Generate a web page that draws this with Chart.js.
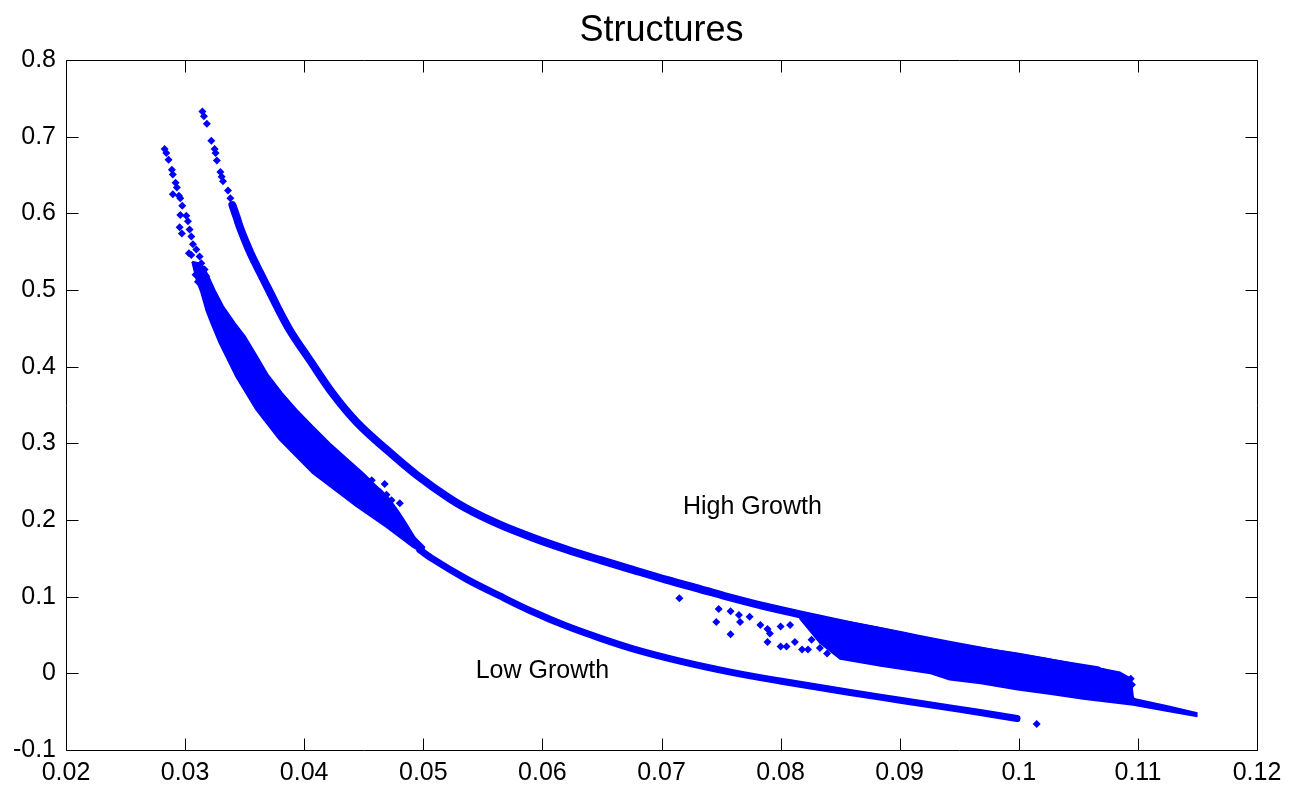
<!DOCTYPE html>
<html>
<head>
<meta charset="utf-8">
<title>Structures</title>
<script src="https://cdn.jsdelivr.net/npm/chart.js@4.4.1/dist/chart.umd.min.js"></script>
<style>
  html, body { margin: 0; padding: 0; background: #fff; }
  #wrap { width: 1296px; height: 789px; }
</style>
</head>
<body>
<div id="wrap"><canvas id="chart" width="1296" height="789"></canvas></div>
<script>
// Axis ticks
const xTicks = [0.02, 0.03, 0.04, 0.05, 0.06, 0.07, 0.08, 0.09, 0.1, 0.11, 0.12];
const xTickLabels = ['0.02', '0.03', '0.04', '0.05', '0.06', '0.07', '0.08', '0.09', '0.1', '0.11', '0.12'];
const yTicks = [-0.1, 0, 0.1, 0.2, 0.3, 0.4, 0.5, 0.6, 0.7, 0.8];
const yTickLabels = ['-0.1', '0', '0.1', '0.2', '0.3', '0.4', '0.5', '0.6', '0.7', '0.8'];

// High Growth: sparse dots at the top, the main curve, the dense cloud on the right, stray dots
const highTip = [[0.03145, 0.733], [0.03158, 0.727], [0.03183, 0.717], [0.03220, 0.695], [0.03248, 0.684],
  [0.03256, 0.679], [0.03267, 0.669], [0.03296, 0.654], [0.03307, 0.648], [0.03318, 0.642], [0.03360, 0.630], [0.03380, 0.620]];
const highCurve = [[0.03397, 0.611], [0.03435, 0.594], [0.03458, 0.583], [0.03514, 0.561], [0.03550, 0.548],
  [0.03584, 0.537], [0.03626, 0.524], [0.03668, 0.511], [0.03710, 0.498], [0.03752, 0.485], [0.03794, 0.472],
  [0.03878, 0.448], [0.04046, 0.409], [0.04240, 0.365], [0.04439, 0.328], [0.04691, 0.292], [0.04943, 0.259],
  [0.05223, 0.228], [0.05363, 0.215], [0.05643, 0.194], [0.05920, 0.177], [0.06197, 0.162], [0.06483, 0.148],
  [0.06761, 0.135], [0.07044, 0.122], [0.07324, 0.110], [0.07601, 0.098], [0.07878, 0.087], [0.08164, 0.077],
  [0.08584, 0.063], [0.09004, 0.050], [0.09424, 0.037], [0.09845, 0.025], [0.10265, 0.014], [0.10660, 0.004]];
const highCloudTop = [[0.0816, 0.079], [0.0833, 0.074], [0.0850, 0.069], [0.0884, 0.059], [0.0926, 0.045],
  [0.0942, 0.040], [0.0968, 0.033], [0.0999, 0.026], [0.1027, 0.018], [0.1054, 0.010], [0.1069, 0.006],
  [0.1085, 0.001], [0.1094, -0.007], [0.1096, -0.033], [0.1125, -0.043], [0.1150, -0.052]];
const highCloudBottom = [[0.0816, 0.072], [0.0833, 0.040], [0.0850, 0.019], [0.0884, 0.010], [0.0926, 0.000],
  [0.0942, -0.008], [0.0968, -0.013], [0.0999, -0.021], [0.1027, -0.027], [0.1054, -0.033], [0.1096, -0.041],
  [0.1125, -0.049], [0.1150, -0.056]];
const highStray = [[0.0715, 0.098], [0.0746, 0.067], [0.0748, 0.084], [0.0758, 0.081], [0.0758, 0.051],
  [0.0765, 0.076], [0.0766, 0.067], [0.0774, 0.074], [0.0783, 0.063], [0.0789, 0.058], [0.0789, 0.041],
  [0.0791, 0.052], [0.0800, 0.035], [0.0800, 0.061], [0.0805, 0.035], [0.0808, 0.063], [0.0812, 0.041],
  [0.0818, 0.031], [0.0823, 0.031], [0.0826, 0.044], [0.0833, 0.033], [0.0839, 0.026], [0.0844, 0.037],
  [0.1071, 0.002], [0.1077, -0.005], [0.1085, -0.003], [0.1090, -0.010], [0.1095, -0.015], [0.1094, -0.007],
  [0.1081, -0.022], [0.1096, -0.035]];

// Low Growth: sparse dots at the top, the wide band, the thin curve, stray dots
const lowTip = [[0.02828, 0.684], [0.02842, 0.679], [0.02861, 0.670], [0.02889, 0.657], [0.02897, 0.651],
  [0.02920, 0.640], [0.02931, 0.634], [0.02897, 0.625], [0.02948, 0.623], [0.02960, 0.620], [0.02976, 0.610],
  [0.02960, 0.598], [0.03010, 0.597], [0.03024, 0.590], [0.02954, 0.582], [0.02973, 0.574], [0.03038, 0.579],
  [0.03052, 0.570], [0.03066, 0.560], [0.03032, 0.548], [0.03052, 0.546], [0.03094, 0.553], [0.03122, 0.544],
  [0.03136, 0.535], [0.03088, 0.520], [0.03108, 0.511], [0.03164, 0.527], [0.03178, 0.518]];
const lowBandUpper = [[0.03060, 0.537], [0.03136, 0.534], [0.03189, 0.520], [0.03248, 0.500], [0.03318, 0.479],
  [0.03416, 0.457], [0.03500, 0.440], [0.03601, 0.414], [0.03696, 0.389], [0.03811, 0.366], [0.03934, 0.344],
  [0.04071, 0.322], [0.04214, 0.300], [0.04357, 0.280], [0.04494, 0.261], [0.04592, 0.246], [0.04702, 0.230],
  [0.04786, 0.212], [0.04845, 0.198], [0.04929, 0.177], [0.05013, 0.164]];
const lowBandLower = [[0.03060, 0.537], [0.03100, 0.512], [0.03136, 0.497], [0.03178, 0.474], [0.03220, 0.457],
  [0.03290, 0.431], [0.03430, 0.387], [0.03598, 0.344], [0.03794, 0.305], [0.04074, 0.261], [0.04439, 0.218],
  [0.04691, 0.191], [0.04914, 0.165], [0.05013, 0.156]];
const lowCurve = [[0.04971, 0.161], [0.05082, 0.149], [0.05363, 0.123], [0.05643, 0.101], [0.05923, 0.080],
  [0.06197, 0.062], [0.06483, 0.046], [0.06761, 0.032], [0.07155, 0.016], [0.07601, 0.001], [0.07996, -0.010],
  [0.08584, -0.025], [0.09004, -0.035], [0.09424, -0.045], [0.09676, -0.051], [0.09985, -0.059]];
const lowStray = [[0.04803, 0.222], [0.04733, 0.226], [0.04691, 0.233], [0.04634, 0.237], [0.04775, 0.205],
  [0.04870, 0.181], [0.04914, 0.174], [0.04567, 0.252], [0.04676, 0.247], [0.04752, 0.213], [0.1015, -0.066]];

// Text labels placed in data units
const notes = [
  { text: 'High Growth', x: 0.0718, y: 0.217 },
  { text: 'Low Growth', x: 0.0544, y: 0.003 }
];

// Bands to fill solid: [upper edge, lower edge]
const bands = [[lowBandUpper, lowBandLower], [highCloudTop, highCloudBottom]];

const BLUE = '#0000ff';
const FONT = "'Liberation Sans', Arial, Helvetica, sans-serif";
const toXY = arr => arr.map(p => ({ x: p[0], y: p[1] }));

function edge(data) {
  return {
    data: toXY(data), showLine: true, borderColor: BLUE, borderWidth: 2,
    borderJoinStyle: 'round', pointRadius: 0, tension: 0, fill: false
  };
}
function curve(data, width) {
  return {
    data: toXY(data), showLine: true, borderColor: BLUE, borderWidth: width,
    borderCapStyle: 'round', borderJoinStyle: 'round', cubicInterpolationMode: 'monotone',
    pointRadius: 0, fill: false
  };
}
function dots(data) {
  return {
    data: toXY(data), showLine: false, pointStyle: 'rectRot', pointRadius: 4,
    pointBackgroundColor: BLUE, pointBorderColor: BLUE, pointBorderWidth: 0
  };
}

// Solid fill between the two edges of each band, placed through the chart's scales
const bandFill = {
  id: 'bandFill',
  beforeDatasetsDraw(chart) {
    const { ctx, scales: { x, y } } = chart;
    ctx.save();
    ctx.fillStyle = BLUE;
    bands.forEach(([upper, lower]) => {
      const outline = upper.concat(lower.slice().reverse());
      ctx.beginPath();
      outline.forEach((p, k) => {
        const px = x.getPixelForValue(p[0]), py = y.getPixelForValue(p[1]);
        if (k === 0) ctx.moveTo(px, py); else ctx.lineTo(px, py);
      });
      ctx.closePath();
      ctx.fill();
    });
    ctx.restore();
  }
};

// Box round the plot with inward ticks on all four sides, plus the text labels
const boxTicks = {
  id: 'boxTicks',
  afterDatasetsDraw(chart) {
    const { ctx, chartArea: a, scales: { x, y } } = chart;
    const L = Math.round(a.left) + 0.5, R = Math.round(a.right) + 0.5;
    const T = Math.round(a.top) + 0.5, B = Math.round(a.bottom) + 0.5;
    ctx.save();
    ctx.strokeStyle = '#000';
    ctx.lineWidth = 1;
    ctx.beginPath();
    ctx.rect(L, T, R - L, B - T);
    xTicks.forEach(v => {
      const px = Math.round(x.getPixelForValue(v)) + 0.5;
      ctx.moveTo(px, B); ctx.lineTo(px, B - 12);
      ctx.moveTo(px, T); ctx.lineTo(px, T + 12);
    });
    yTicks.forEach(v => {
      const py = Math.round(y.getPixelForValue(v)) + 0.5;
      ctx.moveTo(L, py); ctx.lineTo(L + 12, py);
      ctx.moveTo(R, py); ctx.lineTo(R - 12, py);
    });
    ctx.stroke();
    ctx.fillStyle = '#000';
    ctx.font = '25px ' + FONT;
    ctx.textAlign = 'left';
    ctx.textBaseline = 'middle';
    notes.forEach(n => ctx.fillText(n.text, x.getPixelForValue(n.x), y.getPixelForValue(n.y)));
    ctx.restore();
  }
};

new Chart(document.getElementById('chart'), {
  type: 'line',
  data: {
    datasets: [
      edge(lowBandUpper),
      edge(lowBandLower),
      edge(highCloudTop),
      edge(highCloudBottom),
      curve(highCurve, 8),
      curve(lowCurve, 7),
      dots(highTip),
      dots(highStray),
      dots(lowTip),
      dots(lowStray)
    ]
  },
  options: {
    responsive: false,
    animation: false,
    layout: { padding: { left: 0, right: 39, top: 0, bottom: 0 } },
    plugins: {
      legend: { display: false },
      tooltip: { enabled: false },
      title: {
        display: true,
        text: 'Structures',
        fullSize: false,
        color: '#000',
        font: { family: FONT, size: 36, weight: 'normal' },
        padding: { top: 9, bottom: 8 }
      }
    },
    scales: {
      x: {
        type: 'linear',
        min: 0.02,
        max: 0.12,
        grid: { display: false, drawTicks: false },
        border: { display: false },
        afterBuildTicks: s => { s.ticks = xTicks.map(v => ({ value: v })); },
        afterFit: s => { s.height = 39; },
        ticks: {
          autoSkip: false,
          maxRotation: 0,
          padding: 8,
          color: '#000',
          font: { family: FONT, size: 25 },
          callback: (v, i) => xTickLabels[i]
        }
      },
      y: {
        type: 'linear',
        min: -0.1,
        max: 0.8,
        grid: { display: false, drawTicks: false },
        border: { display: false },
        afterBuildTicks: s => { s.ticks = yTicks.map(v => ({ value: v })); },
        afterFit: s => { s.width = 66; },
        ticks: {
          autoSkip: false,
          padding: 10,
          color: '#000',
          font: { family: FONT, size: 25 },
          callback: (v, i) => yTickLabels[i]
        }
      }
    }
  },
  plugins: [bandFill, boxTicks]
});
</script>
</body>
</html>
